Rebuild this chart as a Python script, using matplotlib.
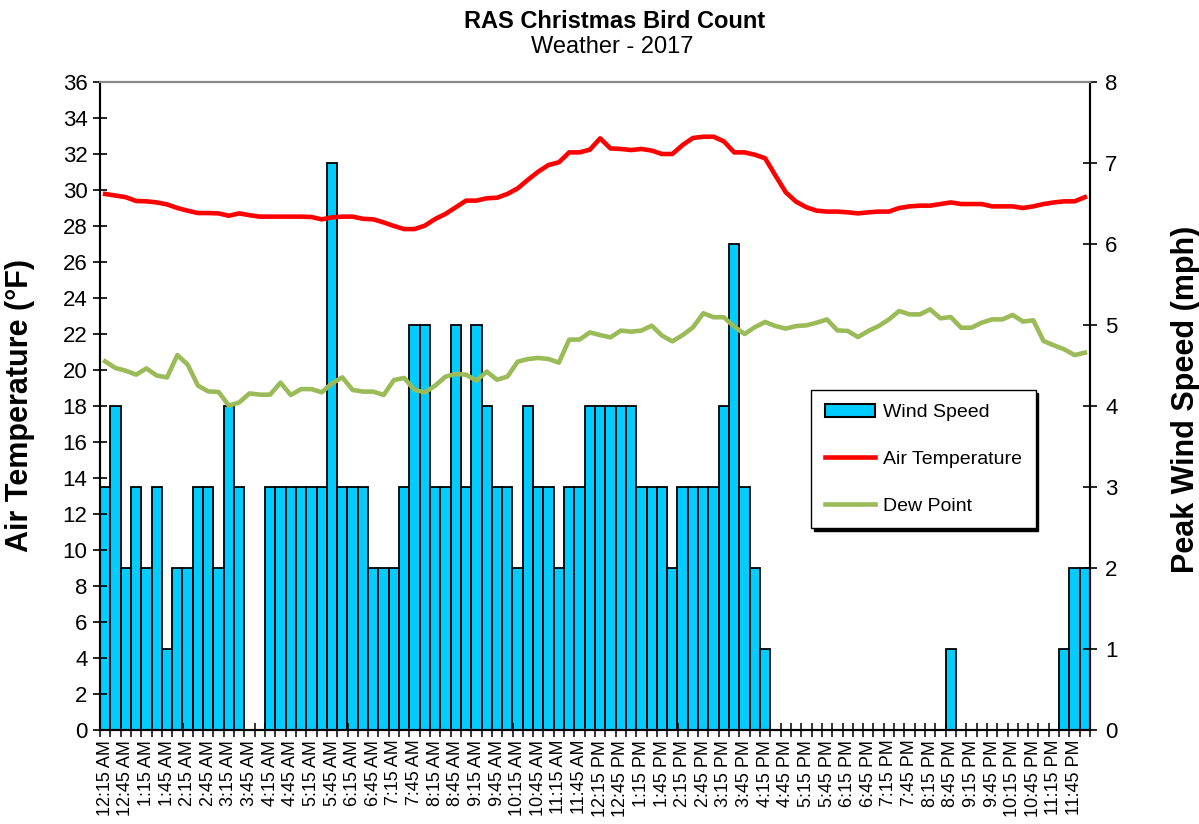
import numpy as np
import matplotlib
matplotlib.use('Agg')
import matplotlib.pyplot as plt
from matplotlib.patches import Patch
from matplotlib.lines import Line2D

plt.rcParams['font.family'] = ['Liberation Sans', 'DejaVu Sans']

# 15-minute readings, 12:15 AM through midnight
times = [
    "12:15 AM", "12:30 AM", "12:45 AM", "1:00 AM", "1:15 AM", "1:30 AM", "1:45 AM", "2:00 AM",
    "2:15 AM", "2:30 AM", "2:45 AM", "3:00 AM", "3:15 AM", "3:30 AM", "3:45 AM", "4:00 AM",
    "4:15 AM", "4:30 AM", "4:45 AM", "5:00 AM", "5:15 AM", "5:30 AM", "5:45 AM", "6:00 AM",
    "6:15 AM", "6:30 AM", "6:45 AM", "7:00 AM", "7:15 AM", "7:30 AM", "7:45 AM", "8:00 AM",
    "8:15 AM", "8:30 AM", "8:45 AM", "9:00 AM", "9:15 AM", "9:30 AM", "9:45 AM", "10:00 AM",
    "10:15 AM", "10:30 AM", "10:45 AM", "11:00 AM", "11:15 AM", "11:30 AM", "11:45 AM", "12:00 PM",
    "12:15 PM", "12:30 PM", "12:45 PM", "1:00 PM", "1:15 PM", "1:30 PM", "1:45 PM", "2:00 PM",
    "2:15 PM", "2:30 PM", "2:45 PM", "3:00 PM", "3:15 PM", "3:30 PM", "3:45 PM", "4:00 PM",
    "4:15 PM", "4:30 PM", "4:45 PM", "5:00 PM", "5:15 PM", "5:30 PM", "5:45 PM", "6:00 PM",
    "6:15 PM", "6:30 PM", "6:45 PM", "7:00 PM", "7:15 PM", "7:30 PM", "7:45 PM", "8:00 PM",
    "8:15 PM", "8:30 PM", "8:45 PM", "9:00 PM", "9:15 PM", "9:30 PM", "9:45 PM", "10:00 PM",
    "10:15 PM", "10:30 PM", "10:45 PM", "11:00 PM", "11:15 PM", "11:30 PM", "11:45 PM", "12:00 AM",
]

wind_speed = [
    3, 4, 2, 3, 2, 3, 1, 2, 2, 3, 3, 2, 4, 3, 0, 0,
    3, 3, 3, 3, 3, 3, 7, 3, 3, 3, 2, 2, 2, 3, 5, 5, 3,
    3, 5, 3, 5, 4, 3, 3, 2, 4, 3, 3, 2, 3, 3, 4, 4, 4, 4, 4, 3, 3, 3, 2, 3, 3, 3, 3, 4, 6, 3, 2, 1,
    0, 0, 0, 0, 0, 0, 0, 0, 0, 0, 0, 0, 0, 0, 0, 0, 0, 1,
    0, 0, 0, 0, 0, 0, 0, 0, 0, 0, 1, 2, 2,
]

air_temp = [
    29.78, 29.69, 29.6, 29.39, 29.37, 29.31, 29.2, 29.0, 28.85, 28.72, 28.72, 28.7, 28.57, 28.7, 28.6, 28.52,
    28.52, 28.52, 28.52, 28.52, 28.5, 28.37, 28.48, 28.52, 28.52, 28.4, 28.37, 28.2, 28.0, 27.83, 27.83, 28.02,
    28.39, 28.67, 29.04, 29.41, 29.41, 29.54, 29.57, 29.78, 30.09, 30.57, 31.02, 31.39, 31.54, 32.09, 32.09, 32.24,
    32.87, 32.31, 32.28, 32.22, 32.28, 32.19, 32.0, 32.0, 32.5, 32.89, 32.96, 32.96, 32.7, 32.09, 32.09, 31.96,
    31.76, 30.8, 29.87, 29.35, 29.04, 28.85, 28.8, 28.8, 28.76, 28.7, 28.76, 28.8, 28.8, 29.0, 29.09, 29.13,
    29.13, 29.22, 29.31, 29.22, 29.22, 29.22, 29.09, 29.09, 29.09, 29.0, 29.09, 29.22, 29.31, 29.37, 29.37, 29.6,
]

dew_point = [
    20.48, 20.11, 19.96, 19.74, 20.09, 19.69, 19.59, 20.83, 20.3, 19.13, 18.81, 18.78, 18.02, 18.2, 18.7, 18.63,
    18.63, 19.3, 18.61, 18.94, 18.94, 18.76, 19.26, 19.59, 18.89, 18.8, 18.8, 18.61, 19.44, 19.56, 18.89, 18.76,
    19.13, 19.63, 19.78, 19.74, 19.41, 19.91, 19.46, 19.63, 20.46, 20.61, 20.67, 20.61, 20.41, 21.69, 21.69, 22.09,
    21.94, 21.81, 22.19, 22.13, 22.19, 22.46, 21.91, 21.59, 21.94, 22.37, 23.15, 22.93, 22.93, 22.41, 22.0, 22.38,
    22.67, 22.44, 22.3, 22.44, 22.48, 22.63, 22.81, 22.2, 22.17, 21.83, 22.17, 22.44, 22.81, 23.28, 23.09, 23.09,
    23.37, 22.87, 22.94, 22.35, 22.35, 22.63, 22.81, 22.81, 23.06, 22.69, 22.76, 21.61, 21.37, 21.15, 20.83, 20.96,
]

bar_color = '#00CCFF'
temp_color = '#FF0000'
dew_color = '#9BBB59'

fig = plt.figure(figsize=(11.99, 8.24), dpi=100)
ax = fig.add_axes([100 / 1199, 94 / 824, 990 / 1199, 648 / 824])
ax2 = ax.twinx()

x = np.arange(len(times))
ax2.bar(x, wind_speed, width=1.0, color=bar_color, edgecolor='black', linewidth=1.3)
ax.plot(x, air_temp, color=temp_color, lw=3.3)
ax.plot(x, dew_point, color=dew_color, lw=3.3)

# lines above the bars
ax.set_zorder(ax2.get_zorder() + 1)
ax.patch.set_visible(False)

ax.set_xlim(-0.5, len(times) - 0.5)
ax.set_ylim(0, 36)
ax.set_yticks(range(0, 37, 2))
ax2.set_ylim(0, 8)
ax2.set_yticks(range(0, 9))

ax.set_xticks(x[::2])
ax.set_xticklabels(times[::2], rotation=90, fontsize=13)
ax.set_xticks(np.arange(-0.5, len(times), 1), minor=True)
ax.tick_params(axis='x', which='major', length=0, pad=7)
ax.tick_params(axis='x', which='minor', direction='inout', length=10, width=1.1)

ax.tick_params(axis='y', direction='inout', length=10, width=1.2, labelsize=16, pad=4)
ax2.tick_params(axis='y', direction='inout', length=10, width=1.2, labelsize=16, pad=6)

for a in (ax, ax2):
    for s in ('left', 'right', 'bottom'):
        a.spines[s].set_color('black')
        a.spines[s].set_linewidth(1.5)
    a.spines['top'].set_color('#888888')
    a.spines['top'].set_linewidth(1.5)

ax.set_ylabel('Air Temperature (°F)', fontsize=22, fontweight='bold')
ax.yaxis.set_label_coords(-0.066, 0.5)
ax2.set_ylabel('Peak Wind Speed (mph)', fontsize=22, fontweight='bold')
ax2.yaxis.set_label_coords(1.082, 0.51)

fig.text(0.513, 1 - 21 / 824, 'RAS Christmas Bird Count', ha='center', va='center',
         fontsize=17, fontweight='bold')
fig.text(0.511, 1 - 47 / 824, 'Weather - 2017', ha='center', va='center', fontsize=17)

handles = [
    Patch(facecolor=bar_color, edgecolor='black', linewidth=1.5),
    Line2D([], [], color=temp_color, lw=3.3),
    Line2D([], [], color=dew_color, lw=3.3),
]
leg = ax.legend(handles, ['Wind Speed', 'Air Temperature', 'Dew Point'],
                loc='upper left', bbox_to_anchor=((811 - 100) / 990, (730 - 390) / 648),
                borderaxespad=0, fontsize=14, fancybox=False, edgecolor='black', framealpha=1,
                shadow={'color': 'black', 'alpha': 1}, labelspacing=1.5,
                handlelength=2.6, handletextpad=0.4, borderpad=0.7)
leg.get_frame().set_linewidth(1.0)

fig.savefig('out.png', dpi=100)
